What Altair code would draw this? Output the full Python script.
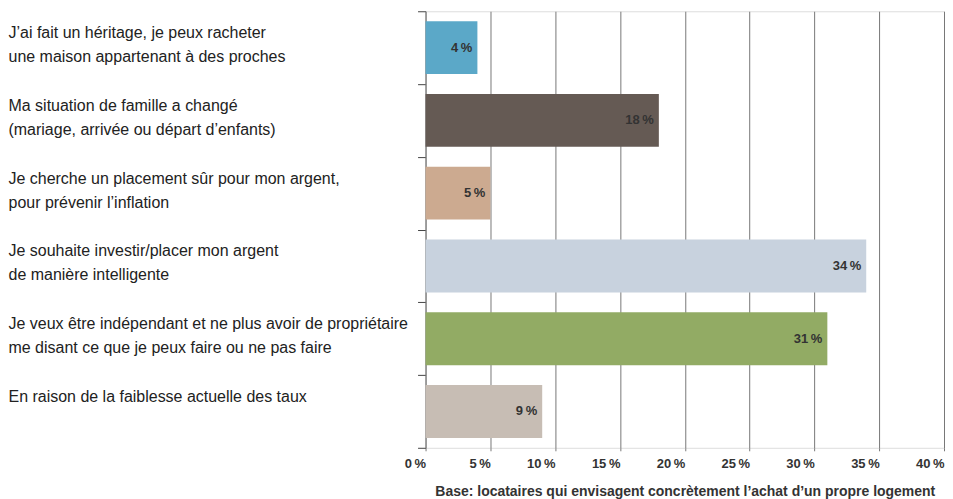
import altair as alt
import pandas as pd

categories = [
    "J’ai fait un héritage, je peux racheter|une maison appartenant à des proches",
    "Ma situation de famille a changé|(mariage, arrivée ou départ d’enfants)",
    "Je cherche un placement sûr pour mon argent,|pour prévenir l’inflation",
    "Je souhaite investir/placer mon argent|de manière intelligente",
    "Je veux être indépendant et ne plus avoir de propriétaire|me disant ce que je peux faire ou ne pas faire",
    "En raison de la faiblesse actuelle des taux",
]
values = [4, 18, 5, 34, 31, 9]
colors = ["#5BA8C8", "#655A54", "#CCAA90", "#C8D2DE", "#92AB64", "#C7BDB4"]
x_ticks = [0, 5, 10, 15, 20, 25, 30, 35, 40]

df = pd.DataFrame({"cat": categories, "val": values, "col": colors})
df["lbl"] = [f"{v}\u2009%" for v in values]

y_enc = alt.Y(
    "cat:N",
    sort=categories,
    title=None,
    scale=alt.Scale(paddingInner=0, paddingOuter=0),
    axis=alt.Axis(
        labelExpr="split(datum.label, '|')",
        labelAlign="left",
        labelBaseline="top",
        labelOffset=-23,
        labelPadding=410,
        labelLimit=0,
        labelFont="Liberation Sans",
        labelFontSize=16,
        labelColor="#222222",
        labelLineHeight=24,
        tickBand="extent",
        tickSize=8,
        tickColor="#444444",
        domainColor="#888888",
        grid=False,
    ),
)

x_enc = alt.X(
    "val:Q",
    scale=alt.Scale(domain=[0, 40], nice=False),
    title="Base: locataires qui envisagent concrètement l’achat d’un propre logement",
    axis=alt.Axis(
        values=x_ticks,
        labelExpr="datum.value + '\u2009%'",
        labelAlign="right",
        labelFlush=False,
        labelFont="Liberation Sans",
        labelFontSize=13,
        labelFontWeight="bold",
        labelColor="#333333",
        labelPadding=7,
        tickSize=3,
        tickColor="#777777",
        domain=False,
        grid=True,
        gridColor="#777777",
        gridWidth=1,
        titleFont="Liberation Sans",
        titleFontSize=14,
        titleFontWeight="bold",
        titleColor="#333333",
        titlePadding=14,
    ),
)

bars = alt.Chart(df).mark_bar(size=53).encode(
    x=x_enc,
    y=y_enc,
    color=alt.Color("col:N", scale=None),
)

texts = alt.Chart(df).mark_text(
    align="right", baseline="middle", dx=-5, font="Liberation Sans",
    fontSize=13, fontWeight="bold", color="#333333",
).encode(
    x="val:Q",
    y=alt.Y("cat:N", sort=categories),
    text="lbl:N",
)

chart = (bars + texts).properties(
    width=519, height=437, padding={"left": 0, "top": 2, "right": 0, "bottom": 0}
).configure_view(stroke=None).configure(background="white")

chart.save("out.html", embed_options={"renderer": "svg", "actions": False})
